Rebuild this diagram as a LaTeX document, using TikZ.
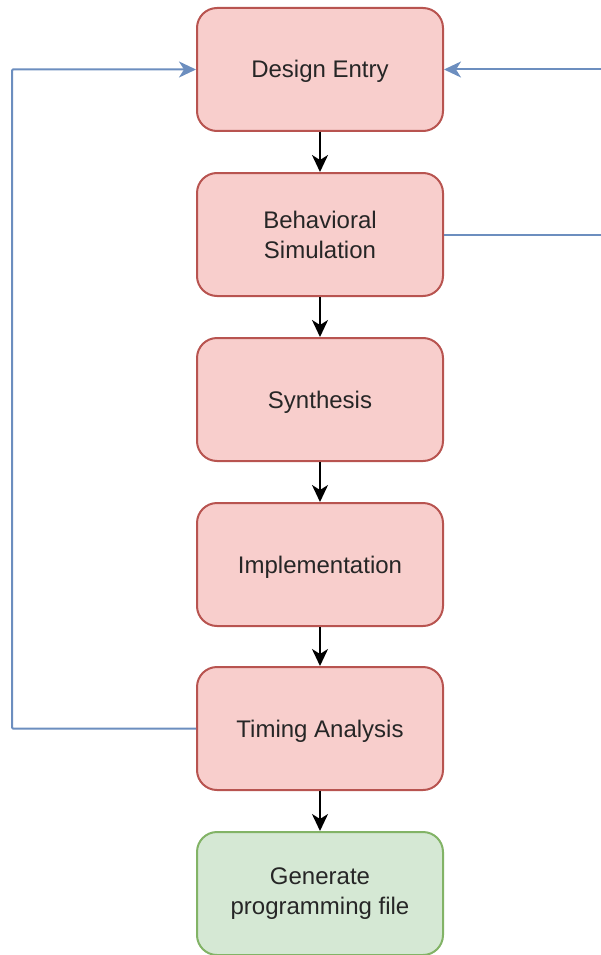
\documentclass[tikz,border=0pt]{standalone}
\usepackage{fontspec}
\setmainfont{Liberation Sans}
\usetikzlibrary{arrows.meta}
\definecolor{redfill}{HTML}{F8CECC}
\definecolor{redline}{HTML}{B85450}
\definecolor{greenfill}{HTML}{D5E8D4}
\definecolor{greenline}{HTML}{82B366}
\definecolor{blueline}{HTML}{6C8EBF}
\tikzset{
  stepbox/.style={draw=redline, fill=redfill, line width=2pt, rounded corners=20pt,
    minimum width=246pt, minimum height=123pt, align=center,
    font=\fontsize{24pt}{30pt}\selectfont, text=black!85, inner sep=0pt},
  oneline/.style={text height=17pt, text depth=0pt},
  endbox/.style={stepbox, draw=greenline, fill=greenfill},
  flow/.style={line width=2pt, -{Stealth[length=17pt, width=16pt, inset=5pt]}},
  loop/.style={draw=blueline, line width=2pt, -{Stealth[length=17pt, width=16pt, inset=5pt]}},
}
\begin{document}
\begin{tikzpicture}[x=1pt, y=-1pt]
  \useasboundingbox (0,0) rectangle (601,955);
  \clip (0,0) rectangle (601,955);

  % process steps
  \node[stepbox, oneline] (de) at (320,69.5)  {Design Entry};
  \node[stepbox] (bs) at (320,234.5) {Behavioral\\Simulation};
  \node[stepbox, oneline] (sy) at (320,399.5) {Synthesis};
  \node[stepbox, oneline] (im) at (320,564.5) {Implementation};
  \node[stepbox, oneline] (ta) at (320,728.5) {Timing Analysis};
  \node[endbox]  (gp) at (320,893.5) {Generate\\programming file};

  % main flow
  \draw[flow] (de) -- (bs);
  \draw[flow] (bs) -- (sy);
  \draw[flow] (sy) -- (im);
  \draw[flow] (im) -- (ta);
  \draw[flow] (ta) -- (gp);

  % feedback loops back to design entry
  \coordinate (lft) at (12,0);
  \coordinate (rgt) at (640,0);
  \draw[loop, rounded corners=1pt] (ta.west) -| (lft |- de.west) -- (de.west);
  \draw[loop] (bs.east) -| (rgt |- de.east) -- (de.east);
\end{tikzpicture}
\end{document}
